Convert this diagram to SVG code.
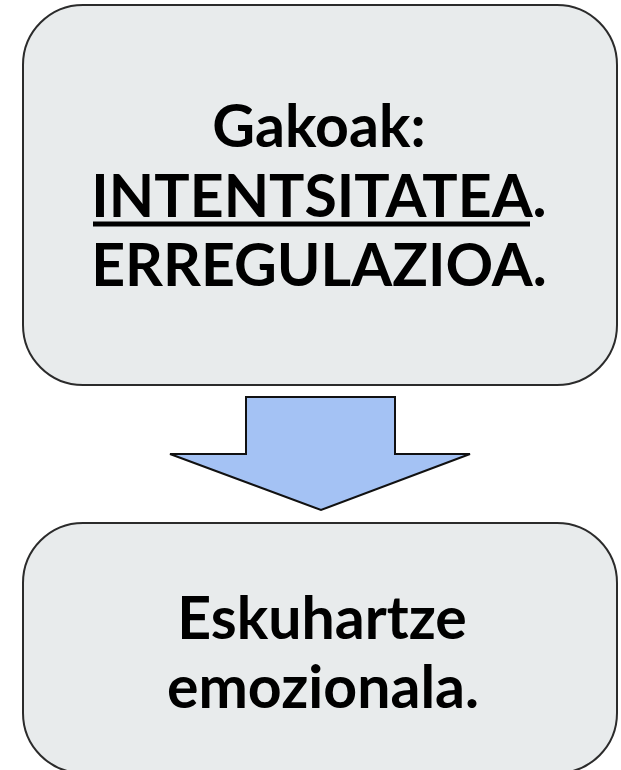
<svg xmlns="http://www.w3.org/2000/svg" width="621" height="770" viewBox="0 0 621 770">
<style>
.box{fill:#e8ebec;stroke:#2b2b2b;stroke-width:2}
.t{font-family:Lato,"Liberation Sans",sans-serif;font-weight:bold;font-size:59px;fill:#000;text-anchor:middle}
.arrow{fill:#a4c2f4;stroke:#111;stroke-width:2;stroke-linejoin:miter}
</style>
<rect width="621" height="770" fill="#fff"/>
<g id="node-gakoak">
<rect class="box" x="23" y="5" width="594" height="380" rx="60" ry="60"/>
<text class="t" x="319" y="147">Gakoak:</text>
<text class="t" x="319" y="217">INTENTSITATEA.</text>
<rect x="93" y="221.5" width="437" height="5" fill="#000"/>
<text class="t" x="319" y="286">ERREGULAZIOA.</text>
</g>
<g id="connectors">
<path class="arrow" d="M246,397 H395 V454 H470 L321,510 L170,454 H246 Z"/>
</g>
<g id="node-eskuhartze">
<rect class="box" x="23" y="523" width="594" height="250" rx="60" ry="60"/>
<text class="t" x="322" y="639">Eskuhartze</text>
<text class="t" x="323" y="708">emozionala.</text>
</g>
</svg>
